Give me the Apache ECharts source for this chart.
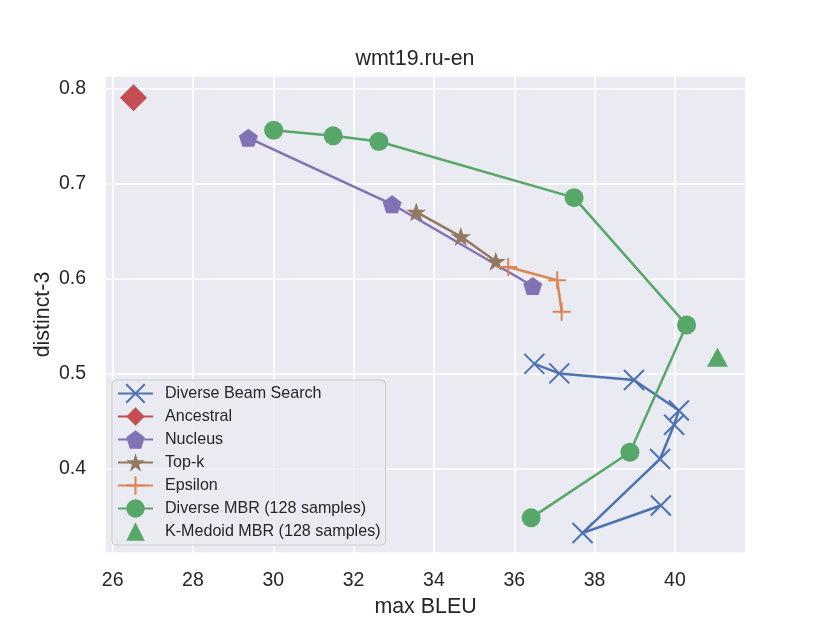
<!DOCTYPE html>
<html>
<head>
<meta charset="utf-8">
<script src="https://cdn.jsdelivr.net/npm/echarts@6/dist/echarts.min.js"></script>
<style>
  html, body { margin: 0; padding: 0; background: #ffffff; }
  #chart { width: 830px; height: 623px; }
</style>
</head>
<body>
<div id="chart"></div>
<script>
// ---- data ----
const diverseBeamX = [36.50, 37.12, 38.98, 40.10, 39.98, 39.63, 37.70, 39.65];
const diverseBeamY = [0.510, 0.500, 0.493, 0.461, 0.446, 0.410, 0.332, 0.361];
const ancestralX = [26.52];
const ancestralY = [0.790];
const nucleusX = [29.38, 32.96, 36.46];
const nucleusY = [0.748, 0.678, 0.592];
const topkX = [33.56, 34.67, 35.54];
const topkY = [0.670, 0.644, 0.618];
const epsilonX = [35.85, 37.07, 37.18];
const epsilonY = [0.612, 0.598, 0.565];
const diverseMbrX = [30.01, 31.49, 32.63, 37.49, 40.29, 38.88, 36.42];
const diverseMbrY = [0.756, 0.750, 0.744, 0.685, 0.551, 0.417, 0.348];
const kmedoidX = [41.06];
const kmedoidY = [0.517];

const seriesNames = ['Diverse Beam Search', 'Ancestral', 'Nucleus', 'Top-k', 'Epsilon',
  'Diverse MBR (128 samples)', 'K-Medoid MBR (128 samples)'];
const titleText = 'wmt19.ru-en';
const xName = 'max BLEU';
const yName = 'distinct-3';

function pairs(xs, ys) { return xs.map((x, i) => [x, ys[i]]); }

const FONT = "'Liberation Sans', Arial, sans-serif";
const TXT = '#262626';
const C = { blue: '#4C72B0', orange: '#DD8452', green: '#55A868', red: '#C44E52', purple: '#8172B3', brown: '#937860' };

const X_PATH = 'path://M0,0L10,10M10,0L0,10';
const PLUS_PATH = 'path://M5,0L5,10M0,5L10,5';
const PENT_PATH = 'path://M0,-100L95.11,-30.9L58.78,80.9L-58.78,80.9L-95.11,-30.9Z';
const STAR_PATH = 'path://M0,-100L22.45,-30.9L95.11,-30.9L36.33,11.8L58.78,80.9L0,38.2L-58.78,80.9L-36.33,11.8L-95.11,-30.9L-22.45,-30.9Z';

function lineSeries(name, data, color, symbol, size, opts) {
  return Object.assign({
    name: name, type: 'line', data: data, color: color,
    symbol: symbol, symbolSize: size, symbolKeepAspect: false,
    lineStyle: { color: color, width: 2.5 },
    itemStyle: { color: color, opacity: 1 },
    emphasis: { disabled: true },
    z: 2
  }, opts || {});
}

const option = {
  animation: false,
  backgroundColor: '#ffffff',
  textStyle: { fontFamily: FONT, color: TXT },
  title: {
    text: titleText, left: 'center', top: 49, padding: 0,
    textStyle: { fontFamily: FONT, fontSize: 21.4, fontWeight: 'normal', color: TXT }
  },
  grid: {
    left: 105, right: 84, top: 76, bottom: 70,
    show: true, backgroundColor: '#EAEAF2', borderWidth: 0
  },
  xAxis: {
    type: 'value', min: 25.81, max: 41.77, splitNumber: 8,
    name: xName, nameLocation: 'middle', nameGap: 44, nameMoveOverlap: false,
    nameTextStyle: { fontFamily: FONT, fontSize: 21.4, color: TXT },
    axisLine: { show: false }, axisTick: { show: false },
    axisLabel: {
      margin: 18, fontFamily: FONT, fontSize: 19.5, color: TXT,
      showMinLabel: false, showMaxLabel: false,
      formatter: v => (Math.abs(v / 2 - Math.round(v / 2)) < 1e-6 ? String(Math.round(v)) : '')
    },
    splitLine: { show: true, lineStyle: { color: '#ffffff', width: 1.6 } }
  },
  yAxis: {
    type: 'value', min: 0.311, max: 0.813, splitNumber: 5,
    name: yName, nameLocation: 'middle', nameGap: 51, nameRotate: 90, nameMoveOverlap: false,
    nameTextStyle: { fontFamily: FONT, fontSize: 21.4, color: TXT },
    axisLine: { show: false }, axisTick: { show: false },
    axisLabel: {
      margin: 19, fontFamily: FONT, fontSize: 19.5, color: TXT,
      showMinLabel: false, showMaxLabel: false,
      formatter: v => (Math.abs(v * 10 - Math.round(v * 10)) < 1e-6 ? v.toFixed(1) : '')
    },
    splitLine: { show: true, lineStyle: { color: '#ffffff', width: 1.6 } }
  },
  legend: {
    orient: 'vertical', left: 112, top: 380,
    data: seriesNames,
    itemWidth: 35, itemHeight: 23, itemGap: 0,
    padding: [2, 5, 2, 5],
    backgroundColor: 'rgba(234,234,242,0.8)',
    borderColor: '#cccccc', borderWidth: 1, borderRadius: 4,
    textStyle: { fontFamily: FONT, fontSize: 16.1, color: TXT, lineHeight: 23, padding: [0, 0, 0, 7] }
  },
  series: [
    lineSeries(seriesNames[0], pairs(diverseBeamX, diverseBeamY), C.blue, X_PATH, 20,
      { itemStyle: { color: 'rgba(0,0,0,0)', borderColor: C.blue, borderWidth: 2 } }),
    lineSeries(seriesNames[1], pairs(ancestralX, ancestralY), C.red, 'diamond', 27),
    lineSeries(seriesNames[2], pairs(nucleusX, nucleusY), C.purple, PENT_PATH, [19, 18]),
    lineSeries(seriesNames[3], pairs(topkX, topkY), C.brown, STAR_PATH, [20, 19]),
    lineSeries(seriesNames[4], pairs(epsilonX, epsilonY), C.orange, PLUS_PATH, 18,
      { itemStyle: { color: 'rgba(0,0,0,0)', borderColor: C.orange, borderWidth: 2 } }),
    lineSeries(seriesNames[5], pairs(diverseMbrX, diverseMbrY), C.green, 'circle', 19),
    lineSeries(seriesNames[6], pairs(kmedoidX, kmedoidY), C.green, 'triangle', [21, 19],
      { lineStyle: { color: C.green, width: 0, opacity: 0 } })
  ]
};

const chart = echarts.init(document.getElementById('chart'), null, { renderer: 'canvas' });
chart.setOption(option);
</script>
</body>
</html>
